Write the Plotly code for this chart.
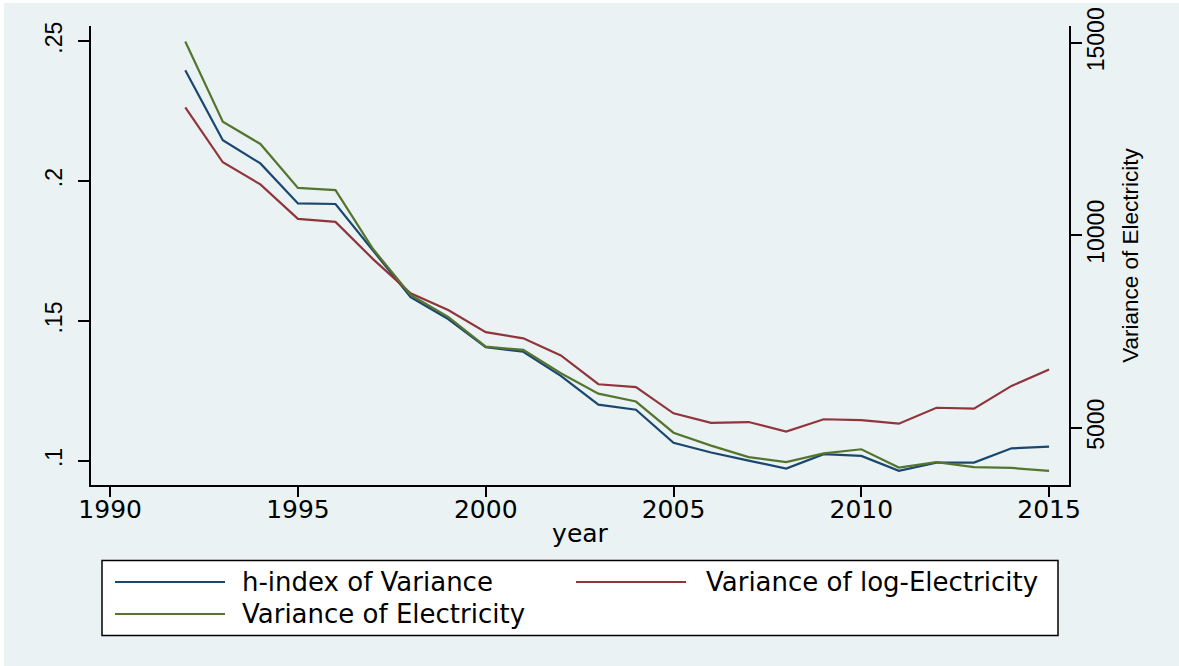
import plotly.graph_objects as go

# ---- data -------------------------------------------------------------
years = list(range(1992, 2016))

h_index_var = [0.2396, 0.2146, 0.2063, 0.1920, 0.1918, 0.1750, 0.1585, 0.1507,
               0.1406, 0.1390, 0.1304, 0.1201, 0.1183, 0.1065, 0.1030, 0.1001,
               0.0973, 0.1024, 0.1018, 0.0965, 0.0994, 0.0994, 0.1045, 0.1051]

log_elec_var = [0.2263, 0.2067, 0.1988, 0.1865, 0.1854, 0.1721, 0.1599, 0.1539,
                0.1460, 0.1438, 0.1377, 0.1274, 0.1264, 0.1170, 0.1136, 0.1139,
                0.1105, 0.1149, 0.1146, 0.1133, 0.1190, 0.1187, 0.1268, 0.1327]

elec_var = [15030, 12950, 12370, 11230, 11170, 9640, 8450, 7880,
            7105, 7020, 6415, 5885, 5680, 4870, 4535, 4235,
            4105, 4335, 4440, 3965, 4105, 3975, 3955, 3880]

series_names = ["h-index of Variance", "Variance of log-Electricity", "Variance of Electricity"]

x_ticks = [1990, 1995, 2000, 2005, 2010, 2015]
left_ticks = [0.10, 0.15, 0.20, 0.25]
left_tick_text = [".1", ".15", ".2", ".25"]
right_ticks = [5000, 10000, 15000]
right_tick_text = ["5000", "10000", "15000"]

# ---- styling ----------------------------------------------------------
NAVY = "#1A476F"
MAROON = "#90353B"
FOREST = "#55752F"
REGION = "#EAF2F3"
W, H = 1179, 666
PL, PR, PT, PB = 91, 1069, 26, 485   # plot area in pixels

H_FONT = "DejaVu Sans"
V_FONT = "Liberation Sans, Arial, sans-serif"


def px_x(px):
    return (px - PL) / (PR - PL)


def px_y(py):
    return (PB - py) / (PB - PT)


fig = go.Figure()
fig.add_trace(go.Scatter(x=years, y=h_index_var, name=series_names[0], mode="lines",
                         line=dict(color=NAVY, width=2.2), yaxis="y", showlegend=False))
fig.add_trace(go.Scatter(x=years, y=log_elec_var, name=series_names[1], mode="lines",
                         line=dict(color=MAROON, width=2.2), yaxis="y", showlegend=False))
fig.add_trace(go.Scatter(x=years, y=elec_var, name=series_names[2], mode="lines",
                         line=dict(color=FOREST, width=2.2), yaxis="y2", showlegend=False))

shapes = [
    # graph region background (thin white rim on top/left)
    dict(type="rect", xref="paper", yref="paper", layer="below",
         x0=px_x(4), x1=px_x(W + 5), y0=px_y(3), y1=px_y(H + 5),
         fillcolor=REGION, line=dict(width=0)),
    # legend box
    dict(type="rect", xref="paper", yref="paper",
         x0=px_x(102), x1=px_x(1058), y0=px_y(635.5), y1=px_y(560.5),
         fillcolor="white", line=dict(color="black", width=1.5)),
]

# legend keys: (colour, key x-start, row y, text x)
legend_layout = [
    (NAVY, 115, 582, 240),
    (MAROON, 576, 582, 704),
    (FOREST, 115, 614, 240),
]
annotations = []
for name, (col, kx, ky, tx) in zip(series_names, legend_layout):
    shapes.append(dict(type="line", xref="paper", yref="paper",
                       x0=px_x(kx), x1=px_x(kx + 110), y0=px_y(ky), y1=px_y(ky),
                       line=dict(color=col, width=2.2)))
    annotations.append(dict(xref="paper", yref="paper", x=px_x(tx), y=px_y(ky),
                            text=name, showarrow=False, xanchor="left", yanchor="middle",
                            font=dict(family=H_FONT, size=26, color="black")))

fig.update_layout(
    width=W, height=H,
    margin=dict(l=PL, r=W - PR, t=PT, b=H - PB, pad=0, autoexpand=False),
    paper_bgcolor="white",
    plot_bgcolor="white",
    shapes=shapes,
    annotations=annotations,
    xaxis=dict(
        range=[1989.49, 2015.53], tickvals=x_ticks, ticks="outside", ticklen=10,
        tickwidth=1.5, tickcolor="black", showline=True, linecolor="black", linewidth=1.5,
        showgrid=False, zeroline=False, ticklabelstandoff=-9, automargin=False,
        tickfont=dict(family=H_FONT, size=25, color="black"),
        title=dict(text="year", font=dict(family=H_FONT, size=25, color="black"), standoff=2),
    ),
    yaxis=dict(
        range=[0.0914, 0.2554], tickvals=left_ticks, ticktext=left_tick_text,
        ticks="outside", ticklen=11, tickwidth=1.5, tickcolor="black", tickangle=-90,
        showline=True, linecolor="black", linewidth=1.5, zeroline=False, automargin=False,
        showgrid=True, gridcolor=REGION, gridwidth=2, ticklabelstandoff=7,
        tickfont=dict(family=V_FONT, size=23, color="black"),
    ),
    yaxis2=dict(
        overlaying="y", side="right", anchor="x",
        range=[3512, 15434], tickvals=right_ticks, ticktext=right_tick_text,
        ticks="outside", ticklen=11, tickwidth=1.5, tickcolor="black", tickangle=-90,
        showline=True, linecolor="black", linewidth=1.5, zeroline=False, showgrid=False,
        ticklabelstandoff=-5, automargin=False,
        tickfont=dict(family=V_FONT, size=23, color="black"),
        title=dict(text="Variance of Electricity",
                   font=dict(family=V_FONT, size=22.5, color="black"), standoff=14),
    ),
)

fig.write_html("out.html")
